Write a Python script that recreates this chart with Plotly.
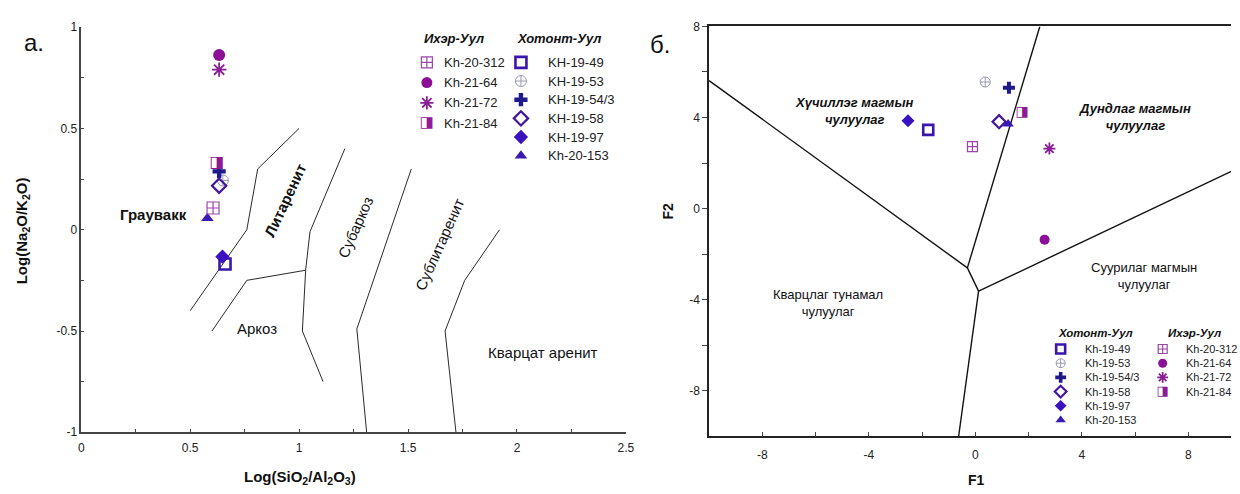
import numpy as np
import plotly.graph_objects as go

W, H = 1240, 494

# ---------------- samples ----------------
khotont_ids_a = ["KH-19-49", "KH-19-53", "KH-19-54/3", "KH-19-58", "KH-19-97", "Kh-20-153"]
khotont_ids_b = ["Kh-19-49", "Kh-19-53", "Kh-19-54/3", "Kh-19-58", "Kh-19-97", "Kh-20-153"]
ikher_ids = ["Kh-20-312", "Kh-21-64", "Kh-21-72", "Kh-21-84"]

# (a) Log(SiO2/Al2O3) vs Log(Na2O/K2O)
khotont_si_al = [0.660, 0.650, 0.633, 0.633, 0.648, 0.579]
khotont_na_k = [-0.169, 0.243, 0.288, 0.217, -0.133, 0.056]
ikher_si_al = [0.605, 0.633, 0.633, 0.623]
ikher_na_k = [0.107, 0.862, 0.790, 0.331]

# (б) discriminant functions F1 / F2
khotont_f1 = [-1.77, 0.37, 1.26, 0.89, -2.53, 1.23]
khotont_f2 = [3.46, 5.56, 5.31, 3.82, 3.86, 3.72]
ikher_f1 = [-0.11, 2.60, 2.78, 1.76]
ikher_f2 = [2.72, -1.36, 2.64, 4.24]

# (a) field boundaries
gw_lith_x, gw_lith_y = [0.50, 0.76, 0.81, 1.00], [-0.40, 0.00, 0.30, 0.50]
ark_top_x, ark_top_y = [0.60, 0.76, 1.03], [-0.50, -0.25, -0.20]
lith_sub_x, lith_sub_y = [1.21, 1.05, 1.03, 1.015, 1.11], [0.40, -0.01, -0.20, -0.50, -0.75]
subark_x, subark_y = [1.515, 1.265, 1.31], [0.30, -0.49, -1.00]
sublith_x, sublith_y = [1.92, 1.76, 1.67, 1.72], [0.00, -0.25, -0.50, -1.00]

# (б) field boundaries
felsic_quartz_x, felsic_quartz_y = [-10.0, -0.30], [5.62, -2.60]
felsic_interm_x, felsic_interm_y = [2.42, -0.30], [8.0, -2.60]
junction_x, junction_y = [-0.30, 0.12], [-2.60, -3.62]
quartz_mafic_x, quartz_mafic_y = [0.12, -0.63], [-3.62, -10.0]
interm_mafic_x, interm_mafic_y = [0.12, 10.0], [-3.62, 1.85]

# ---------------- marker styles ----------------
BLUE = "#3a16ac"
NAVY = "#1f1a8c"
PURPLE = "#8e1a9a"
styles_khotont = [
    dict(symbol="square-open", color=BLUE, lw=2.6),
    dict(symbol="circle-cross-open", color="#9a98b4", lw=1.0),
    dict(symbol="cross", color=NAVY, lw=0),
    dict(symbol="diamond-open", color="#43179f", lw=2.2),
    dict(symbol="diamond", color="#3b12c0", lw=0),
    dict(symbol="triangle-up", color="#3a18b4", lw=0),
]
styles_ikher = [
    dict(symbol="square-cross-open", color="#9a46aa", lw=1.2),
    dict(symbol="circle", color="#8c0f98", lw=0),
    dict(symbol="asterisk-open", color="#8a1f95", lw=1.8),
    dict(symbol=None, color=PURPLE, lw=0),  # half-filled square glyph
]
HALF_SQUARE = "\u25e8"

FONT = "Arial, Liberation Sans, sans-serif"
fig = go.Figure()


def add_mark(xa, ya, x, y, st, size, name):
    if st["symbol"] is None:
        fig.add_trace(go.Scatter(
            x=x, y=y, mode="text", text=[HALF_SQUARE] * len(x), name=name,
            textposition="middle center", xaxis=xa, yaxis=ya, showlegend=False,
            textfont=dict(family="DejaVu Sans", size=size + 4, color=st["color"])))
        return
    fig.add_trace(go.Scatter(
        x=x, y=y, mode="markers", name=name, xaxis=xa, yaxis=ya, showlegend=False,
        marker=dict(symbol=st["symbol"], size=size, color=st["color"],
                    line=dict(color=st["color"], width=st["lw"]))))


def add_line(xa, ya, x, y, color, width):
    fig.add_trace(go.Scatter(x=x, y=y, mode="lines", xaxis=xa, yaxis=ya, showlegend=False,
                             line=dict(color=color, width=width), hoverinfo="skip"))


# ---------------- panel a ----------------
for bx, by in [(gw_lith_x, gw_lith_y), (ark_top_x, ark_top_y), (lith_sub_x, lith_sub_y),
               (subark_x, subark_y), (sublith_x, sublith_y)]:
    add_line("x", "y", bx, by, "#2a2a2a", 1)

for i, name in enumerate(khotont_ids_a):
    add_mark("x", "y", [khotont_si_al[i]], [khotont_na_k[i]], styles_khotont[i], 11, name)
for i, name in enumerate(ikher_ids):
    add_mark("x", "y", [ikher_si_al[i]], [ikher_na_k[i]], styles_ikher[i], 12, name)

# ---------------- panel б ----------------
for bx, by in [(felsic_quartz_x, felsic_quartz_y), (felsic_interm_x, felsic_interm_y),
               (junction_x, junction_y), (quartz_mafic_x, quartz_mafic_y),
               (interm_mafic_x, interm_mafic_y)]:
    add_line("x2", "y2", bx, by, "#111111", 1.4)

for i, name in enumerate(khotont_ids_b):
    add_mark("x2", "y2", [khotont_f1[i]], [khotont_f2[i]], styles_khotont[i], 10, name)
for i, name in enumerate(ikher_ids):
    add_mark("x2", "y2", [ikher_f1[i]], [ikher_f2[i]], styles_ikher[i], 10, name)

# ---------------- legends (pixel overlay axis x3/y3) ----------------
annotations = []


def text(x, y, s, size, xref="x3", yref="y3", bold=False, italic=False,
         xanchor="center", angle=0, color="#111"):
    if bold:
        s = "<b>" + s + "</b>"
    if italic:
        s = "<i>" + s + "</i>"
    annotations.append(dict(x=x, y=y, xref=xref, yref=yref, text=s, showarrow=False,
                            xanchor=xanchor, yanchor="middle", textangle=angle,
                            font=dict(family=FONT, size=size, color=color)))


def legend_block(title, tx, ty, tsize, ids, styles, mx, lx, y0, step, msize, fsize):
    text(tx, ty, title, tsize, bold=True, italic=True, xanchor="left")
    for i, (name, st) in enumerate(zip(ids, styles)):
        yy = y0 + i * step
        add_mark("x3", "y3", [mx], [yy], st, msize, name)
        text(lx, yy, name, fsize, xanchor="left", color="#222")


legend_block("Ихэр-Уул", 423, 32, 13, ikher_ids, styles_ikher, 428, 443, 57, 20.8, 11, 13)
legend_block("Хотонт-Уул", 517, 32, 13, khotont_ids_a, styles_khotont, 523, 548, 57, 19.2, 11, 13)
legend_block("Хотонт-Уул", 1063, 335, 11.5, khotont_ids_b, styles_khotont, 1068, 1091, 352, 14.6, 9, 11)
legend_block("Ихэр-Уул", 1174, 335, 11.5, ikher_ids, styles_ikher, 1171, 1193, 352, 14.6, 9, 11)

# panel letters and axis titles
text(31, 37, "a.", 24)
text(663, 39, "б.", 24)
text(20, 230, "Log(Na<sub>2</sub>O/K<sub>2</sub>O)", 15, bold=True, angle=-90)
text(300, 484, "Log(SiO<sub>2</sub>/Al<sub>2</sub>O<sub>3</sub>)", 15, bold=True)
text(672, 210, "F2", 14, bold=True, angle=-90)
text(983, 487, "F1", 14, bold=True)

# field names, panel a
text(0.330, 0.075, "Граувакк", 15, xref="x", yref="y", bold=True)
text(0.939, 0.147, "Литаренит", 15, xref="x", yref="y", bold=True, angle=-65)
text(1.258, 0.011, "Субаркоз", 15, xref="x", yref="y", angle=-66)
text(1.644, -0.072, "Сублитаренит", 15, xref="x", yref="y", angle=-66)
text(0.808, -0.488, "Аркоз", 15, xref="x", yref="y")
text(2.121, -0.604, "Кварцат аренит", 15, xref="x", yref="y")

# field names, panel б
text(-4.54, 4.30, "Хүчиллэг магмын<br>чулуулаг", 13, xref="x2", yref="y2", bold=True, italic=True)
text(5.99, 4.04, "Дундлаг магмын<br>чулуулаг", 13, xref="x2", yref="y2", bold=True, italic=True)
text(6.32, -2.94, "Суурилаг магмын<br>чулуулаг", 13, xref="x2", yref="y2")
text(-5.55, -4.13, "Кварцлаг тунамал<br>чулуулаг", 13, xref="x2", yref="y2")

# ---------------- axes ----------------
AX = "#444"
tickfont = dict(family=FONT, size=12, color="#222")

a_xticks = [0, 0.5, 1, 1.5, 2, 2.5]
a_yticks = [-1, -0.5, 0, 0.5, 1]
b_ticks = [-8, -4, 0, 4, 8]

fig.update_layout(
    width=W, height=H, margin=dict(l=0, r=0, t=0, b=0),
    paper_bgcolor="white", plot_bgcolor="rgba(0,0,0,0)",
    font=dict(family=FONT), showlegend=False, annotations=annotations,
    xaxis=dict(domain=[79 / W, 629 / W], anchor="y", range=[0, 2.5], showgrid=False,
               zeroline=False, showline=True, linecolor=AX, linewidth=1.5,
               ticks="inside", ticklen=4, tickcolor=AX, tickvals=a_xticks,
               ticktext=[f"{v:g}" for v in a_xticks], tickfont=tickfont, ticklabelstandoff=4,
               minor=dict(ticks="inside", ticklen=4, tickcolor=AX,
                          tickvals=list(np.arange(0.25, 2.5, 0.5)))),
    yaxis=dict(domain=[(H - 437.7) / H, (H - 20.7) / H], anchor="x", range=[-1, 1],
               showgrid=False, zeroline=False, showline=True, linecolor=AX, linewidth=1.5,
               ticks="inside", ticklen=3, tickcolor=AX, tickvals=a_yticks,
               ticktext=[f"{v:g}" for v in a_yticks], tickfont=tickfont,
               minor=dict(ticks="inside", ticklen=3, tickcolor=AX,
                          tickvals=list(np.arange(-0.75, 1, 0.5)))),
    xaxis2=dict(domain=[713 / W, 1.0], anchor="y2", range=[-10, 9.6], showgrid=False,
                zeroline=False, showline=True, mirror=True, linecolor="#222", linewidth=1.5,
                ticks="inside", ticklen=5, tickcolor="#444", tickvals=b_ticks,
                ticktext=[str(v) for v in b_ticks], tickfont=tickfont,
                ticklabelstandoff=6,
                minor=dict(ticks="inside", ticklen=5, tickcolor="#444",
                           tickvals=[-10, -6, -2, 2, 6])),
    yaxis2=dict(domain=[(H - 442) / H, (H - 20) / H], anchor="x2", range=[-10, 8],
                showgrid=False, zeroline=False, showline=True, linecolor="#222", linewidth=1.5,
                ticks="outside", ticklen=5, tickcolor="#444", tickvals=b_ticks,
                ticktext=[str(v) for v in b_ticks], tickfont=tickfont,
                minor=dict(ticks="outside", ticklen=5, tickcolor="#444",
                           tickvals=[-6, -2, 2, 6])),
    xaxis3=dict(domain=[0, 1], anchor="y3", range=[0, W], visible=False, fixedrange=True),
    yaxis3=dict(domain=[0, 1], anchor="x3", range=[H, 0], visible=False, fixedrange=True),
)

fig.write_html("out.html")
